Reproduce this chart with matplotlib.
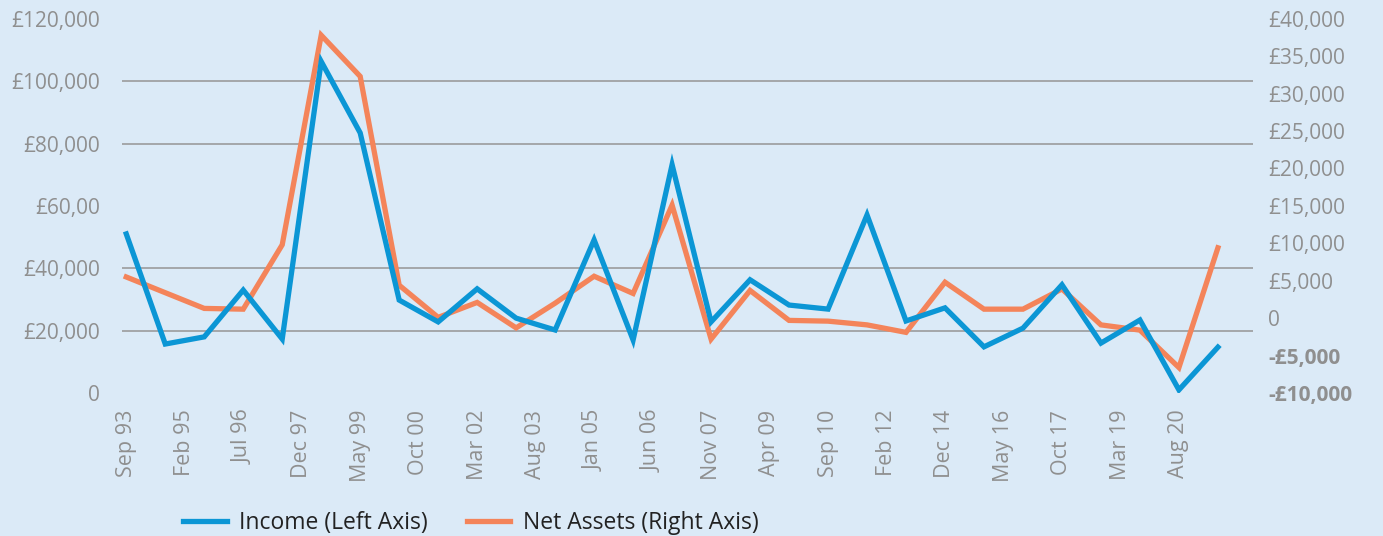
import numpy as np
import matplotlib.pyplot as plt

plt.rcParams['font.family'] = ['Open Sans', 'DejaVu Sans']

# yearly points, labels every 1.5 points
tick_labels = ['Sep 93', 'Feb 95', 'Jul 96', 'Dec 97', 'May 99', 'Oct 00', 'Mar 02',
               'Aug 03', 'Jan 05', 'Jun 06', 'Nov 07', 'Apr 09', 'Sep 10', 'Feb 12',
               'Dec 14', 'May 16', 'Oct 17', 'Mar 19', 'Aug 20']
income = [51000, 15700, 18000, 33000, 17300, 106300, 83400, 29800, 22800, 33400,
          24000, 20200, 49100, 17000, 73200, 22800, 36300, 28200, 26900, 57100,
          23100, 27300, 14800, 20800, 34700, 16000, 23400, 1000, 14700]
net_assets = [5500, 3400, 1300, 1200, 9800, 37800, 32300, 4400, 100, 2100,
              -1300, 2000, 5600, 3300, 15100, -2800, 3700, -300, -400, -900,
              -1900, 4800, 1200, 1200, 3900, -900, -1600, -6600, 9400]

left_ticks = [0, 20000, 40000, 60000, 80000, 100000, 120000]
left_labels = ['0', '£20,000', '£40,000', '£60,00', '£80,000', '£100,000', '£120,000']
right_ticks = [-10000, -5000, 0, 5000, 10000, 15000, 20000, 25000, 30000, 35000, 40000]
right_labels = ['-£10,000', '-£5,000', '0', '£5,000', '£10,000', '£15,000', '£20,000',
                '£25,000', '£30,000', '£35,000', '£40,000']

bg = '#dbeaf7'
grey = '#8f8f8f'
blue = '#0b96d5'
orange = '#f4845a'

fig = plt.figure(figsize=(13.83, 5.36), dpi=100, facecolor=bg)
ax = fig.add_axes([0.0882, 0.2668, 0.8178, 0.6982])
ax2 = ax.twinx()

x = np.arange(len(income))
ax2.set_facecolor(bg)
ax.patch.set_visible(False)
ax.set_zorder(ax2.get_zorder() + 1)

l1, = ax.plot(x, income, color=blue, linewidth=3.8, solid_joinstyle='miter')
l2, = ax2.plot(x, net_assets, color=orange, linewidth=3.8, solid_joinstyle='miter')

ax.set_ylim(0, 120000)
ax2.set_ylim(-10000, 40000)
ax.set_xlim(-0.11, 28.9)

ax.set_yticks(left_ticks, left_labels)
ax2.set_yticks(right_ticks, right_labels)
ax.set_xticks(np.arange(len(tick_labels)) * 1.5, tick_labels, rotation=90)

# gridlines at the left ticks, drawn on the lower axes so lines sit above them
lo, hi = ax2.get_ylim()
ax2.set_yticks([lo + t / 120000 * (hi - lo) for t in left_ticks], minor=True)
ax2.grid(True, which='minor', axis='y', color='#959595', linewidth=1.1)
ax2.set_axisbelow(True)

for a in (ax, ax2):
    for s in a.spines.values():
        s.set_visible(False)
    a.tick_params(which='both', length=0, colors=grey, labelsize=15)
ax.tick_params(axis='y', pad=16)
ax.tick_params(axis='x', pad=12, labelsize=15.5)
ax2.tick_params(axis='y', pad=11)
for t, v in zip(ax2.get_yticklabels(), right_ticks):
    if v < 0:
        t.set_fontweight('bold')

fig.legend([l1, l2], ['Income (Left Axis)', 'Net Assets (Right Axis)'],
           loc='lower center', bbox_to_anchor=(0.3405, -0.037), ncol=2, frameon=False,
           fontsize=16.5, labelcolor='#222222', handlelength=1.9, handletextpad=0.55,
           columnspacing=1.7)

fig.savefig('out.png', facecolor=bg)
